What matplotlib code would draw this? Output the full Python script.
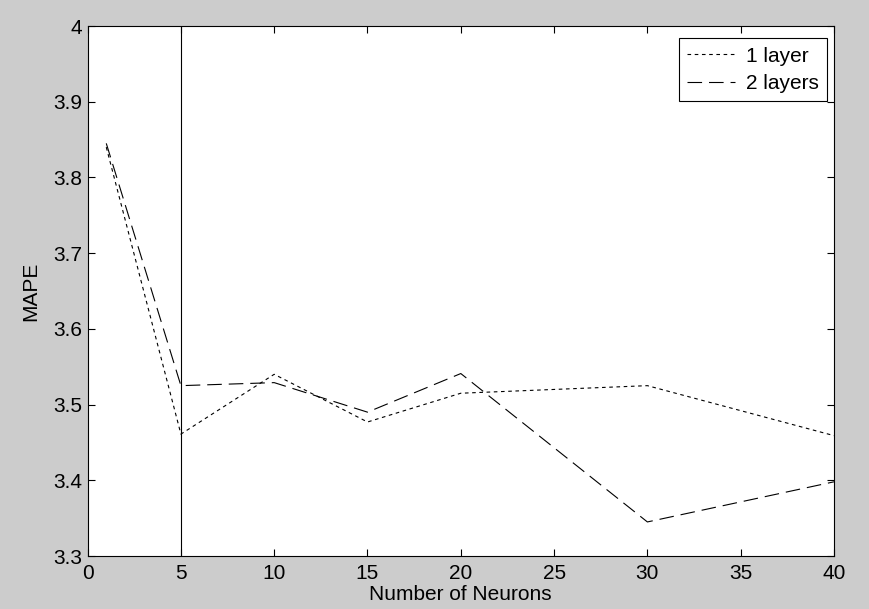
import matplotlib
matplotlib.use("Agg")
import matplotlib.pyplot as plt

# values
neurons = [1, 5, 10, 15, 20, 30, 40]
mape_1layer = [3.840, 3.461, 3.540, 3.477, 3.515, 3.525, 3.459]
mape_2layers = [3.845, 3.525, 3.529, 3.490, 3.541, 3.345, 3.398]
labels = ["1 layer", "2 layers"]
xticks = [0, 5, 10, 15, 20, 25, 30, 35, 40]
yticks = [3.3, 3.4, 3.5, 3.6, 3.7, 3.8, 3.9, 4.0]
ytick_labels = ["3.3", "3.4", "3.5", "3.6", "3.7", "3.8", "3.9", "4"]
cut_x = 5

plt.rcParams['font.family'] = ['Liberation Sans', 'DejaVu Sans']
plt.rcParams['font.size'] = 15
plt.rcParams['lines.scale_dashes'] = False

fig = plt.figure(figsize=(8.7, 6.09), dpi=100, facecolor='#cccccc')
ax = fig.add_axes([0.1007, 0.087, 0.8579, 0.8703])
ax.set_facecolor('white')

ax.plot(neurons, mape_1layer, color='black', lw=0.8,
        linestyle=(0, (2.6, 2.6)), label=labels[0])
ax.plot(neurons, mape_2layers, color='black', lw=0.8,
        linestyle=(0, (10.5, 5)), label=labels[1])
ax.axvline(cut_x, color='black', lw=0.8)

ax.set_xlim(0, 40)
ax.set_ylim(3.3, 4.0)
ax.set_xticks(xticks)
ax.set_yticks(yticks)
ax.set_yticklabels(ytick_labels)
ax.tick_params(direction='in', top=True, right=True, length=5, width=0.8,
               labelsize=15, colors='black')
ax.tick_params(axis='x', pad=6)
ax.tick_params(axis='y', pad=4)
for s in ax.spines.values():
    s.set_linewidth(0.8)

ax.set_xlabel("Number of Neurons", fontsize=15, labelpad=1)
ax.set_ylabel("MAPE", fontsize=15, labelpad=9)

leg = ax.legend(loc='upper right', bbox_to_anchor=(0.9906, 0.977),
                fancybox=False, framealpha=1, edgecolor='black',
                handlelength=2.3, handletextpad=0.5, borderaxespad=0,
                fontsize=15, borderpad=0.4, labelspacing=0.4)
leg.get_frame().set_linewidth(0.8)

fig.savefig("out.png", dpi=100, facecolor=fig.get_facecolor())
